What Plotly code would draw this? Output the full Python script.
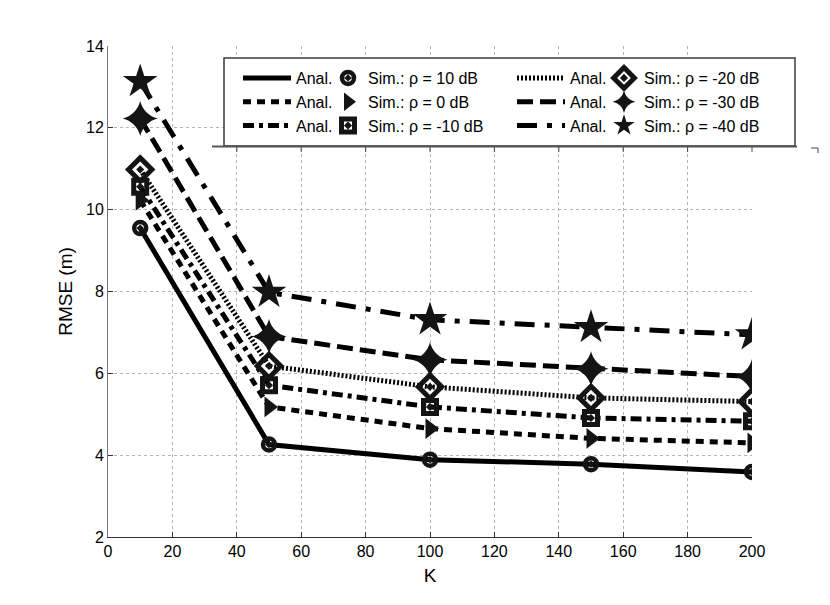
import plotly.graph_objects as go

K = [10, 50, 100, 150, 200]
rmse_10 = [9.55, 4.26, 3.89, 3.78, 3.59]
rmse_0 = [10.23, 5.18, 4.65, 4.41, 4.30]
rmse_m10 = [10.56, 5.71, 5.18, 4.91, 4.83]
rmse_m20 = [10.98, 6.18, 5.67, 5.40, 5.31]
rmse_m30 = [12.23, 6.90, 6.33, 6.11, 5.92]
rmse_m40 = [13.13, 7.98, 7.31, 7.12, 6.94]
snr_labels = ["10 dB", "0 dB", "-10 dB", "-20 dB", "-30 dB", "-40 dB"]

series = [rmse_10, rmse_0, rmse_m10, rmse_m20, rmse_m30, rmse_m40]
dashes = ["solid", "8px,6px", "11px,5px,4px,5px", "2px,2px", "16px,7px", "20px,10px,5px,10px"]
symbols = ["circle-open-dot", "triangle-right", "square-open-dot",
           "diamond-open-dot", "star-diamond", "star"]
sizes = [12, 18, 13, 18, 25, 26]
mline = [4.5, 0, 5, 5, 0, 0]
legends_line = ["legend", "legend", "legend", "legend3", "legend3", "legend3"]
legends_mark = ["legend2", "legend2", "legend2", "legend4", "legend4", "legend4"]

INK = "#141414"
fig = go.Figure()
for i, ys in enumerate(series):
    fig.add_trace(go.Scatter(
        x=K, y=ys, mode="lines", name="Anal.",
        line=dict(color="black", width=5, dash=dashes[i]),
        legend=legends_line[i], legendgroup="l%d" % i,
    ))
for i, ys in enumerate(series):
    fig.add_trace(go.Scatter(
        x=K, y=ys, mode="markers", name="Sim.: ρ = " + snr_labels[i],
        marker=dict(symbol=symbols[i], size=sizes[i], color=INK,
                    line=dict(color=INK, width=mline[i])),
        legend=legends_mark[i], legendgroup="m%d" % i,
    ))

# page is drawn with an 8px body margin; coordinates below are screen pixels
OFF = 8
FW, FH = 830 - OFF, 605 - OFF
L, R, T, B = 108, 752, 46, 537
W, H = R - L, B - T


def px(xp):
    return (xp - L) / W


def py(yp):
    return (B - yp) / H


legend_common = dict(bgcolor="rgba(0,0,0,0)", borderwidth=0,
                     font=dict(family="Liberation Sans, Arial", size=16, color="black"),
                     xanchor="left", yanchor="top", tracegroupgap=7,
                     traceorder="normal")

shapes = [
    dict(type="rect", xref="paper", yref="paper", x0=px(224), x1=px(795), y0=py(146), y1=py(58),
         line=dict(color="#3a3a3a", width=1.5), fillcolor="white", layer="above"),
    dict(type="line", xref="paper", yref="paper", x0=px(212), x1=px(797), y0=py(146.5), y1=py(146.5),
         line=dict(color="#555", width=2)),
    dict(type="line", xref="paper", yref="paper", x0=px(811), x1=px(818), y0=py(148), y1=py(148),
         line=dict(color="#444", width=1)),
    dict(type="line", xref="paper", yref="paper", x0=px(818), x1=px(818), y0=py(148), y1=py(153),
         line=dict(color="#444", width=1)),
]
for xv in range(40, 201, 20):
    xpix = L + xv / 200 * W
    shapes.append(dict(type="line", xref="paper", yref="paper", x0=px(xpix), x1=px(xpix),
                       y0=py(147), y1=py(152), line=dict(color="#444", width=1)))

fig.update_layout(
    width=FW, height=FH,
    margin=dict(l=L - OFF, r=FW - (R - OFF), t=T - OFF, b=FH - (B - OFF), autoexpand=False),
    paper_bgcolor="white", plot_bgcolor="white",
    font=dict(family="Liberation Sans, Arial", size=16, color="black"),
    showlegend=True,
    shapes=shapes,
    legend=dict(x=px(238), y=py(61), itemwidth=48, **legend_common),
    legend2=dict(x=px(328), y=py(61), itemwidth=30, **legend_common),
    legend3=dict(x=px(512), y=py(61), itemwidth=48, **legend_common),
    legend4=dict(x=px(604), y=py(61), itemwidth=30, **legend_common),
    xaxis=dict(range=[0, 200], dtick=20, ticks="inside", ticklen=5, tickcolor="#333",
               showline=True, linecolor="#333", linewidth=1, zeroline=False,
               showgrid=True, gridcolor="#b5b5b5", griddash="dot", gridwidth=1,
               title=dict(text="K", standoff=9), tickfont=dict(size=16)),
    yaxis=dict(range=[2, 14], dtick=2, ticks="inside", ticklen=5, tickcolor="#333",
               showline=True, linecolor="#777", linewidth=1, zeroline=False,
               showgrid=True, gridcolor="#b5b5b5", griddash="dot", gridwidth=1,
               title=dict(text="RMSE (m)", standoff=8), tickfont=dict(size=16)),
)

fig.write_html("out.html")
